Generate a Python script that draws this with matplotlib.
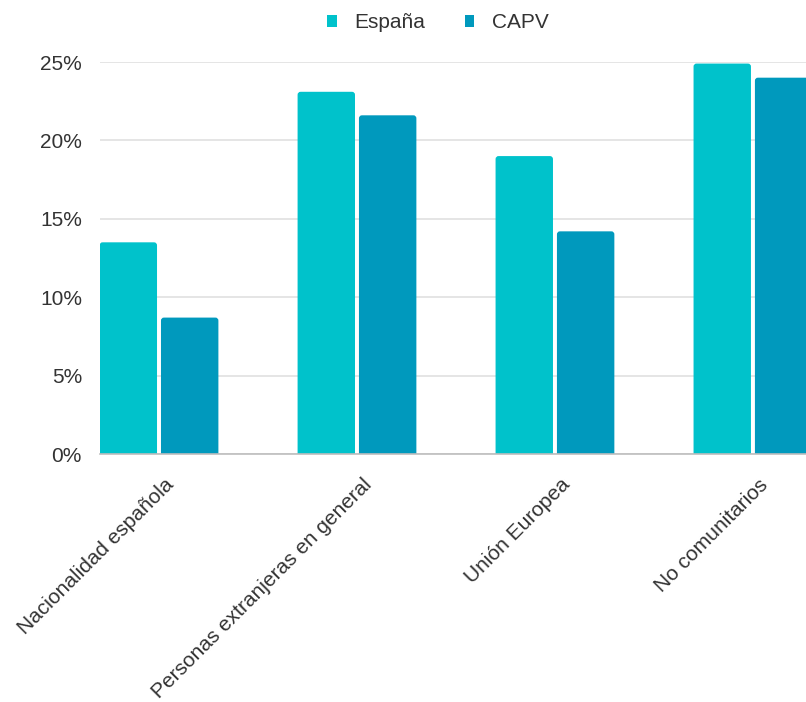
import matplotlib
matplotlib.use("Agg")
import matplotlib.pyplot as plt
import numpy as np
from matplotlib.transforms import ScaledTranslation
from matplotlib.ticker import FuncFormatter, MultipleLocator
from matplotlib.patches import FancyBboxPatch

categories = ["Nacionalidad española", "Personas extranjeras en general", "Unión Europea", "No comunitarios"]
series_names = ["España", "CAPV"]
espana = [13.5, 23.1, 19.0, 24.9]
capv = [8.7, 21.6, 14.2, 24.0]
colors = ["#00c2cb", "#0099bd"]

plt.rcParams['font.family'] = ['Liberation Sans', 'DejaVu Sans']

fig = plt.figure(figsize=(8.06, 7.02), dpi=100)
ax = fig.add_axes([100/806, 1-454/702, 1-100/806, (454-62)/702])

x = np.arange(len(categories))
w = 0.29
off = 0.155
b1 = ax.bar(x - off, espana, w, color=colors[0], label=series_names[0], zorder=3)
b2 = ax.bar(x + off, capv, w, color=colors[1], label=series_names[1], zorder=3)

ax.set_xlim(-0.298, 3.268)
ax.set_ylim(0, 25)

# rounded top corners
fig.canvas.draw()
bbox = ax.get_window_extent()
px_per_x = bbox.width / (ax.get_xlim()[1] - ax.get_xlim()[0])
px_per_y = bbox.height / (ax.get_ylim()[1] - ax.get_ylim()[0])
r_px = 3.0
r_x = r_px / px_per_x
aspect = px_per_x / px_per_y
for bars, c in ((b1, colors[0]), (b2, colors[1])):
    for rect in bars:
        x0, y0, ww, hh = rect.get_x(), rect.get_y(), rect.get_width(), rect.get_height()
        ry = r_px / px_per_y
        p = FancyBboxPatch((x0, y0 - ry), ww, hh + ry,
                           boxstyle=f"round,pad=0,rounding_size={r_x}",
                           mutation_aspect=aspect, facecolor=c, edgecolor='none', zorder=3)
        ax.add_patch(p)
        rect.set_visible(False)

ax.yaxis.set_major_locator(MultipleLocator(5))
ax.yaxis.set_major_formatter(FuncFormatter(lambda v, p: f"{int(v)}%"))
ax.grid(axis='y', color='#e0e0e0', linewidth=1.2, zorder=0)
for s in ['top', 'right', 'left']:
    ax.spines[s].set_visible(False)
ax.spines['bottom'].set_color('#bdbdbd')
ax.spines['bottom'].set_linewidth(1.2)
ax.spines['bottom'].set_zorder(4)
ax.tick_params(axis='y', length=0, pad=13, labelsize=15, labelcolor='#333333')
ax.tick_params(axis='x', length=0, pad=20, labelsize=15, labelcolor='#333333')
ax.set_xticks(x)
ax.set_xticklabels(categories, rotation=45, ha='right', rotation_mode='anchor', va='center')
for lab in ax.get_xticklabels():
    lab.set_transform(lab.get_transform() + ScaledTranslation(0.12, 0.0, fig.dpi_scale_trans))

from matplotlib.patches import Patch
handles = [Patch(facecolor=colors[0]), Patch(facecolor=colors[1])]
leg = fig.legend(handles=handles, labels=series_names, loc='center', bbox_to_anchor=(438/806, 1-23/702),
                 ncol=2, frameon=False, fontsize=15, handlelength=0.45, handleheight=0.45,
                 columnspacing=1.9, handletextpad=0.85)
for t in leg.get_texts():
    t.set_color('#333333')

fig.savefig("out.png", dpi=100)
